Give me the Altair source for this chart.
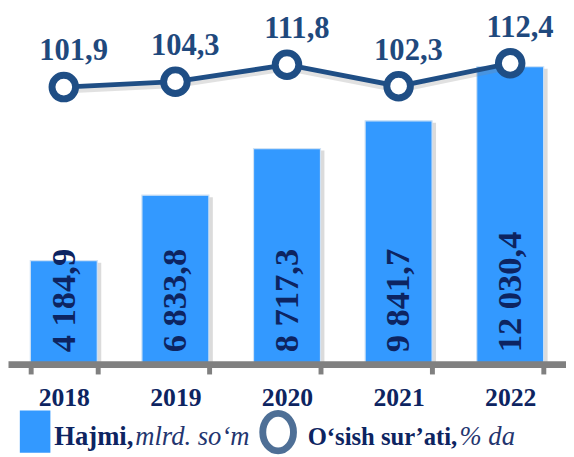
import altair as alt
import pandas as pd

years = ["2018", "2019", "2020", "2021", "2022"]
volume = [4184.9, 6833.8, 8717.3, 9841.7, 12030.4]
volume_labels = ["4 184,9", "6 833,8", "8 717,3", "9 841,7", "12 030,4"]
growth = [101.9, 104.3, 111.8, 102.3, 112.4]
growth_labels = ["101,9", "104,3", "111,8", "102,3", "112,4"]

df = pd.DataFrame({"year": years, "volume": volume, "vlab": volume_labels,
                   "growth": growth, "glab": growth_labels})

FONT = "Liberation Serif"
NAVY = "#0D2461"
LINE = "#1F4E85"
W, H = 566, 358
BARDOM = [0, 14280]

xenc = alt.X("year:N", sort=years,
             scale=alt.Scale(paddingInner=0.4, paddingOuter=0.2),
             axis=alt.Axis(title=None, labelAngle=0, domainColor="#808080",
                           domainWidth=7, tickColor="#808080", tickWidth=5,
                           tickSize=10, tickBand="extent", labelFont=FONT,
                           labelFontSize=26, labelFontWeight="bold",
                           labelColor=NAVY, labelPadding=11, zindex=1))
ybar = alt.Y("volume:Q", scale=alt.Scale(domain=BARDOM), axis=None)
yzero = alt.Y("zero:Q", scale=alt.Scale(domain=BARDOM), axis=None)
yline = alt.Y("growth:Q", scale=alt.Scale(domain=[-20.3, 135.4]), axis=None)

base = alt.Chart(df)

shadow = base.mark_bar(color="#b0b0b0", opacity=0.45, xOffset=4, yOffset=2).encode(x=xenc, y=ybar)
bars = base.mark_bar(color="#3399FF", stroke="#cfe2f5", strokeWidth=1.2).encode(x=xenc, y=ybar)
barlab = base.transform_calculate(zero="0").mark_text(
    angle=270, align="left", baseline="middle", dx=12,
    font=FONT, fontSize=35, fontWeight="bold", color=NAVY
).encode(x=xenc, y=yzero, text="vlab:N")

bar_layer = alt.layer(shadow, bars, barlab)

lshadow = base.mark_line(color="#888888", strokeWidth=5, opacity=0.25, yOffset=4).encode(x=xenc, y=yline)
line = base.mark_line(color=LINE, strokeWidth=5).encode(x=xenc, y=yline)
pts = base.mark_point(shape="circle", size=572, filled=True, fill="white",
                      stroke=LINE, strokeWidth=7, opacity=1).encode(x=xenc, y=yline)
plab = base.mark_text(font=FONT, fontSize=31, fontWeight="bold", color="#1F497D",
                      dx=10, dy=-36, baseline="middle").encode(x=xenc, y=yline, text="glab:N")
line_layer = alt.layer(lshadow, line, pts, plab)

one = pd.DataFrame({"a": [0]})
leg_rect = alt.Chart(one).mark_rect(color="#3399FF").encode(
    x=alt.value(12), x2=alt.value(43), y=alt.value(405), y2=alt.value(448))
leg_circ = alt.Chart(one).mark_point(
    shape="M -0.82,0 A 0.82 1 0 1 1 0.82 0 A 0.82 1 0 1 1 -0.82 0 Z",
    size=1444, filled=True, fill="white", stroke="#4E6F96", strokeWidth=7, opacity=1
).encode(x=alt.value(274), y=alt.value(427))

def legtext(t, x, bold, italic, size=27):
    return alt.Chart(one).mark_text(text=t, font=FONT, fontSize=size,
                                    fontWeight="bold" if bold else "normal",
                                    fontStyle="italic" if italic else "normal",
                                    color=NAVY if bold else "#24356F",
                                    align="left", baseline="alphabetic").encode(
        x=alt.value(x), y=alt.value(440))

legend = alt.layer(
    leg_rect, leg_circ,
    legtext("Hajmi,", 47, True, False),
    legtext("mlrd. so\u2018m", 129, False, True),
    legtext("O\u2018sish sur\u2019ati,", 304, True, False, 25),
    legtext("% da", 458, False, True),
)

chart = alt.layer(bar_layer, line_layer, legend).resolve_scale(y="independent").properties(
    width=W, height=H,
    autosize=alt.AutoSizeParams(type="none"),
    padding={"left": 0, "top": 0, "right": 0, "bottom": 90},
).configure_view(stroke=None)

chart.save("out.html", embed_options={"renderer": "svg", "actions": False})
